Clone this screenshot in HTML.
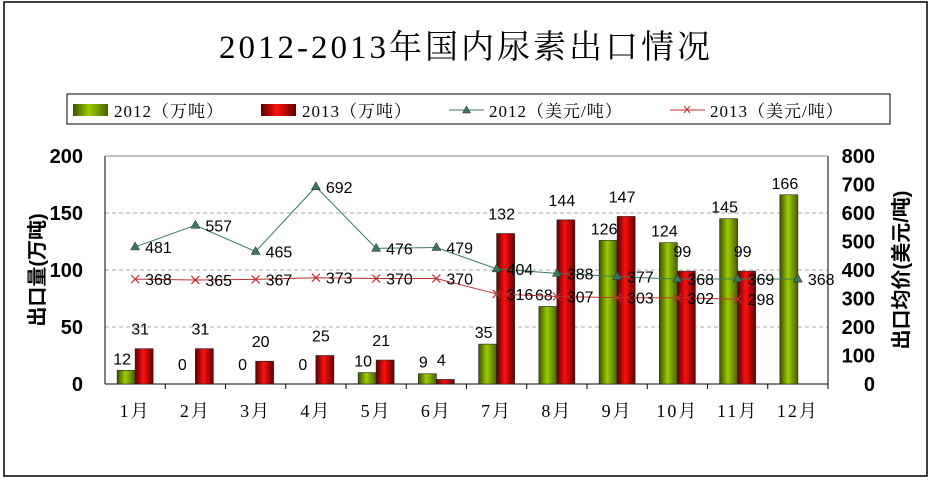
<!DOCTYPE html>
<html><head><meta charset="utf-8"><style>
body{margin:0;background:#fff;}
svg text{font-family:"Liberation Sans","Noto Sans CJK SC",sans-serif;}
</style></head><body>
<svg width="932" height="481" viewBox="0 0 932 481" xmlns="http://www.w3.org/2000/svg">
<defs>
<linearGradient id="gg" x1="0" x2="1" y1="0" y2="0"><stop offset="0" stop-color="#3d5000"/><stop offset="0.45" stop-color="#9acd00"/><stop offset="1" stop-color="#4a6000"/></linearGradient>
<linearGradient id="rg" x1="0" x2="1" y1="0" y2="0"><stop offset="0" stop-color="#5a0000"/><stop offset="0.45" stop-color="#ff1010"/><stop offset="1" stop-color="#600000"/></linearGradient>
</defs>
<rect x="4" y="2" width="923" height="474" fill="#fff" stroke="#000" stroke-width="1.5"/>
<text x="466" y="58" text-anchor="middle" font-size="33" letter-spacing="3" style="font-family:'Liberation Serif','Noto Serif CJK SC',serif">2012-2013年国内尿素出口情况</text>
<g>
<rect x="67" y="94" width="823" height="30" fill="#fff" stroke="#000"/>
<rect x="73" y="104" width="35" height="12" fill="url(#gg)"/>
<text x="114" y="117" font-size="17" letter-spacing="1" style="font-family:'Liberation Serif','Noto Serif CJK SC',serif">2012（万吨）</text>
<rect x="261" y="104" width="35" height="12" fill="url(#rg)"/>
<text x="302" y="117" font-size="17" letter-spacing="1" style="font-family:'Liberation Serif','Noto Serif CJK SC',serif">2013（万吨）</text>
<line x1="449" y1="110" x2="484" y2="110" stroke="#3a7a5a"/><path d="M466.5,106 L470.5,113 L462.5,113Z" fill="#3a7a5a" stroke="#222" stroke-width="0.5"/>
<text x="489" y="117" font-size="17" letter-spacing="1" style="font-family:'Liberation Serif','Noto Serif CJK SC',serif">2012（美元/吨）</text>
<line x1="670" y1="110" x2="705" y2="110" stroke="#c03030"/><path d="M684,106 l6,7 M690,106 l-6,7" stroke="#c03030"/>
<text x="710" y="117" font-size="17" letter-spacing="1" style="font-family:'Liberation Serif','Noto Serif CJK SC',serif">2013（美元/吨）</text>
</g>
<text transform="translate(44,270) rotate(-90)" text-anchor="middle" font-size="20" font-weight="bold">出口量(万吨)</text>
<text transform="translate(908,270) rotate(-90)" text-anchor="middle" font-size="20" font-weight="bold">出口均价(美元/吨)</text>
<g id="plot"></g>
</svg>
<script>
const months=["1月","2月","3月","4月","5月","6月","7月","8月","9月","10月","11月","12月"];
const vol2012=[12,0,0,0,10,9,35,68,126,124,145,166];
const vol2013=[31,31,20,25,21,4,132,144,147,99,99,null];
const price2012=[481,557,465,692,476,479,404,388,377,368,369,368];
const price2013=[368,365,367,373,370,370,316,307,303,302,298,null];
const leftTicks=[0,50,100,150,200];
const rightTicks=[0,100,200,300,400,500,600,700,800];
const X0=105,X1=828,Y0=384,Y1=156;
const NS="http://www.w3.org/2000/svg";
const g=document.getElementById('plot');
const cw=(X1-X0)/months.length;
const xc=i=>X0+cw*(i+0.5);
const yl=v=>Y0-(v/200)*(Y0-Y1);
const yr=v=>Y0-(v/800)*(Y0-Y1);
function mk(t,a,txt){const e=document.createElementNS(NS,t);for(const k in a)e.setAttribute(k,a[k]);if(txt!=null)e.textContent=txt;g.appendChild(e);return e;}
leftTicks.forEach(v=>{
 if(v>0&&v<200){const l=mk('line',{x1:X0,x2:X1,y1:yl(v),y2:yl(v),stroke:'#aaa','stroke-dasharray':'4,3'});
 
 }
 const t=mk('text',{x:X0-22,y:yl(v)+7,'text-anchor':'end','font-size':'20','font-weight':'bold'},v);
 
 
});
rightTicks.forEach(v=>{
 const t=mk('text',{x:X1+47,y:yr(v)+7,'text-anchor':'end','font-size':'20','font-weight':'bold'},v);
 
 
});
mk('line',{x1:X0,x2:X0,y1:Y1,y2:Y0,stroke:'#000'});
mk('line',{x1:X1,x2:X1,y1:Y1,y2:Y0,stroke:'#000'});
mk('line',{x1:X0,x2:X1,y1:Y1,y2:Y1,stroke:'#888'});
mk('line',{x1:X0,x2:X1,y1:Y0,y2:Y0,stroke:'#000'});
months.forEach((m,i)=>{
 mk('line',{x1:X0+cw*(i+1),x2:X0+cw*(i+1),y1:Y0,y2:Y0+5,stroke:'#000'});
 const t=mk('text',{x:xc(i),y:Y0+33,'text-anchor':'middle','font-size':'18','letter-spacing':'2','style':"font-family:'Liberation Serif','Noto Serif CJK SC',serif"},m);
 
 
 const bw=18;
 const v1=vol2012[i];
 if(v1!=null){
  const r=mk('rect',{x:xc(i)-bw,y:yl(v1),width:bw,height:Y0-yl(v1),fill:'url(#gg)',stroke:'#222','stroke-width':'0.6'});
  
  
  const lt=mk('text',{x:xc(i)-bw/2-4,y:yl(v1)-6-(v1<5?8:0),'text-anchor':'middle','font-size':'16'},v1);
  
  
 }
 const v2=vol2013[i];
 if(v2!=null){
  const r=mk('rect',{x:xc(i),y:yl(v2),width:bw,height:Y0-yl(v2),fill:'url(#rg)',stroke:'#222','stroke-width':'0.6'});
  
  
  const lt=mk('text',{x:xc(i)+bw/2-4,y:yl(v2)-14,'text-anchor':'middle','font-size':'16'},v2);
  
  
 }
});
function line(data,color,name,tri){
 const pts=[];data.forEach((v,i)=>{if(v!=null)pts.push([xc(i),yr(v)]);});
 const p=mk('polyline',{points:pts.map(p=>p.join(',')).join(' '),fill:'none',stroke:color,'stroke-width':'1'});
 
 
 data.forEach((v,i)=>{if(v==null)return;const x=xc(i),y=yr(v);
  let m;
  if(tri)m=mk('path',{d:`M${x},${y-5} L${x+4.5},${y+3} L${x-4.5},${y+3}Z`,fill:'#3a7a5a',stroke:'#222','stroke-width':'0.5'});
  else m=mk('path',{d:`M${x-4},${y-4} L${x+4},${y+4} M${x+4},${y-4} L${x-4},${y+4}`,stroke:color,'stroke-width':'1.2'});
  
  
  const t=mk('text',{x:x+10,y:y+6,'font-size':'16'},v);
  
  
 });
}
line(price2012,'#3a7a5a','price-2012',true);
line(price2013,'#c03030','price-2013',false);
</script>
</body></html>
